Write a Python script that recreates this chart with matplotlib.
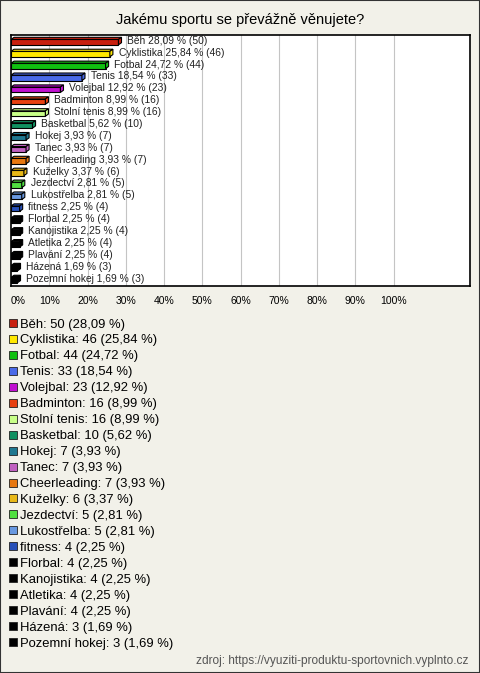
import matplotlib.pyplot as plt
from matplotlib.patches import Polygon, Rectangle

# survey data
sports = ["Běh", "Cyklistika", "Fotbal", "Tenis", "Volejbal", "Badminton",
          "Stolní tenis", "Basketbal", "Hokej", "Tanec", "Cheerleading",
          "Kuželky", "Jezdectví", "Lukostřelba", "fitness", "Florbal",
          "Kanojistika", "Atletika", "Plavání", "Házená", "Pozemní hokej"]
counts = [50, 46, 44, 33, 23, 16, 16, 10, 7, 7, 7, 6, 5, 5, 4, 4, 4, 4, 4, 3, 3]
percents = [28.09, 25.84, 24.72, 18.54, 12.92, 8.99, 8.99, 5.62, 3.93, 3.93,
            3.93, 3.37, 2.81, 2.81, 2.25, 2.25, 2.25, 2.25, 2.25, 1.69, 1.69]
colors = ["#C8200F", "#FFE800", "#10C010", "#4A6AE8", "#C010D0", "#E84010",
          "#C8FF88", "#109060", "#207890", "#C060C0", "#E87810", "#E8B818",
          "#50E040", "#6898E0", "#2850B8", "#000000", "#000000", "#000000",
          "#000000", "#000000", "#000000"]
x_ticks = [0, 10, 20, 30, 40, 50, 60, 70, 80, 90, 100]

plt.rcParams['font.family'] = ['Liberation Sans', 'DejaVu Sans']

bg = "#F2F1E9"
fig = plt.figure(figsize=(4.8, 6.73), dpi=100, facecolor=bg)
fig.add_artist(Rectangle((0, 0), 1, 1, transform=fig.transFigure, fill=False,
                         edgecolor="#333333", linewidth=1.5))

fig.text(0.5, 1 - 20 / 673, "Jakému sportu se převážně věnujete?",
         ha="center", va="center", fontsize=10.5, color="#000000")

ax = fig.add_axes([11 / 480, 1 - 286 / 673, 459 / 480, 251 / 673])
ax.set_facecolor("white")
n = len(sports)
ypos = list(range(n))
ax.set_xlim(0, 120)
ax.set_ylim(n - 0.5, -0.6)

for t in x_ticks[1:]:
    ax.axvline(t, color="#C4C4C4", linewidth=0.8, zorder=0)

# 3D-looking bars: front face + top face + side face
h = 0.45
dx = 0.8
dy = 0.18
ax.barh(ypos, percents, height=h, color=colors, edgecolor="black",
        linewidth=0.8, zorder=3)
for y, v, c in zip(ypos, percents, colors):
    top = y - h / 2
    bot = y + h / 2
    ax.add_patch(Polygon([(0, top), (v, top), (v + dx, top - dy), (dx, top - dy)],
                         closed=True, facecolor=c, edgecolor="black",
                         linewidth=0.8, zorder=3))
    ax.add_patch(Polygon([(v, top), (v + dx, top - dy), (v + dx, bot - dy), (v, bot)],
                         closed=True, facecolor=c, edgecolor="black",
                         linewidth=0.8, zorder=3))

for y, s, v, c in zip(ypos, sports, percents, counts):
    ax.text(v + 2.3, y - 0.12, f"{s} {v:.2f} % ({c})".replace(".", ","),
            ha="left", va="center", fontsize=7.4, color="#222222", zorder=4)

ax.set_xticks(x_ticks)
ax.set_xticklabels([f"{t}%" for t in x_ticks], fontsize=7.5)
ax.get_xticklabels()[0].set_horizontalalignment("left")
ax.tick_params(axis="x", length=0, pad=7)
ax.set_yticks([])
for sp in ax.spines.values():
    sp.set_linewidth(1.2)
    sp.set_color("black")

# legend below the chart
y0 = 323
step = 15.95
for i, (s, c, v, col) in enumerate(zip(sports, counts, percents, colors)):
    yc = y0 + i * step
    fig.add_artist(Rectangle((9 / 480, 1 - (yc + 4) / 673), 8 / 480, 8 / 673,
                             transform=fig.transFigure, facecolor=col,
                             edgecolor="#222222", linewidth=0.6))
    fig.text(20 / 480, 1 - (yc + 4.5) / 673, f"{s}: {c} ({v:.2f} %)".replace(".", ","),
             ha="left", va="baseline", fontsize=9.4, color="#000000")

fig.text(468 / 480, 1 - 661 / 673,
         "zdroj: https://vyuziti-produktu-sportovnich.vyplnto.cz",
         ha="right", va="center", fontsize=8.6, color="#555555")

fig.savefig("out.png", dpi=100, facecolor=bg)
